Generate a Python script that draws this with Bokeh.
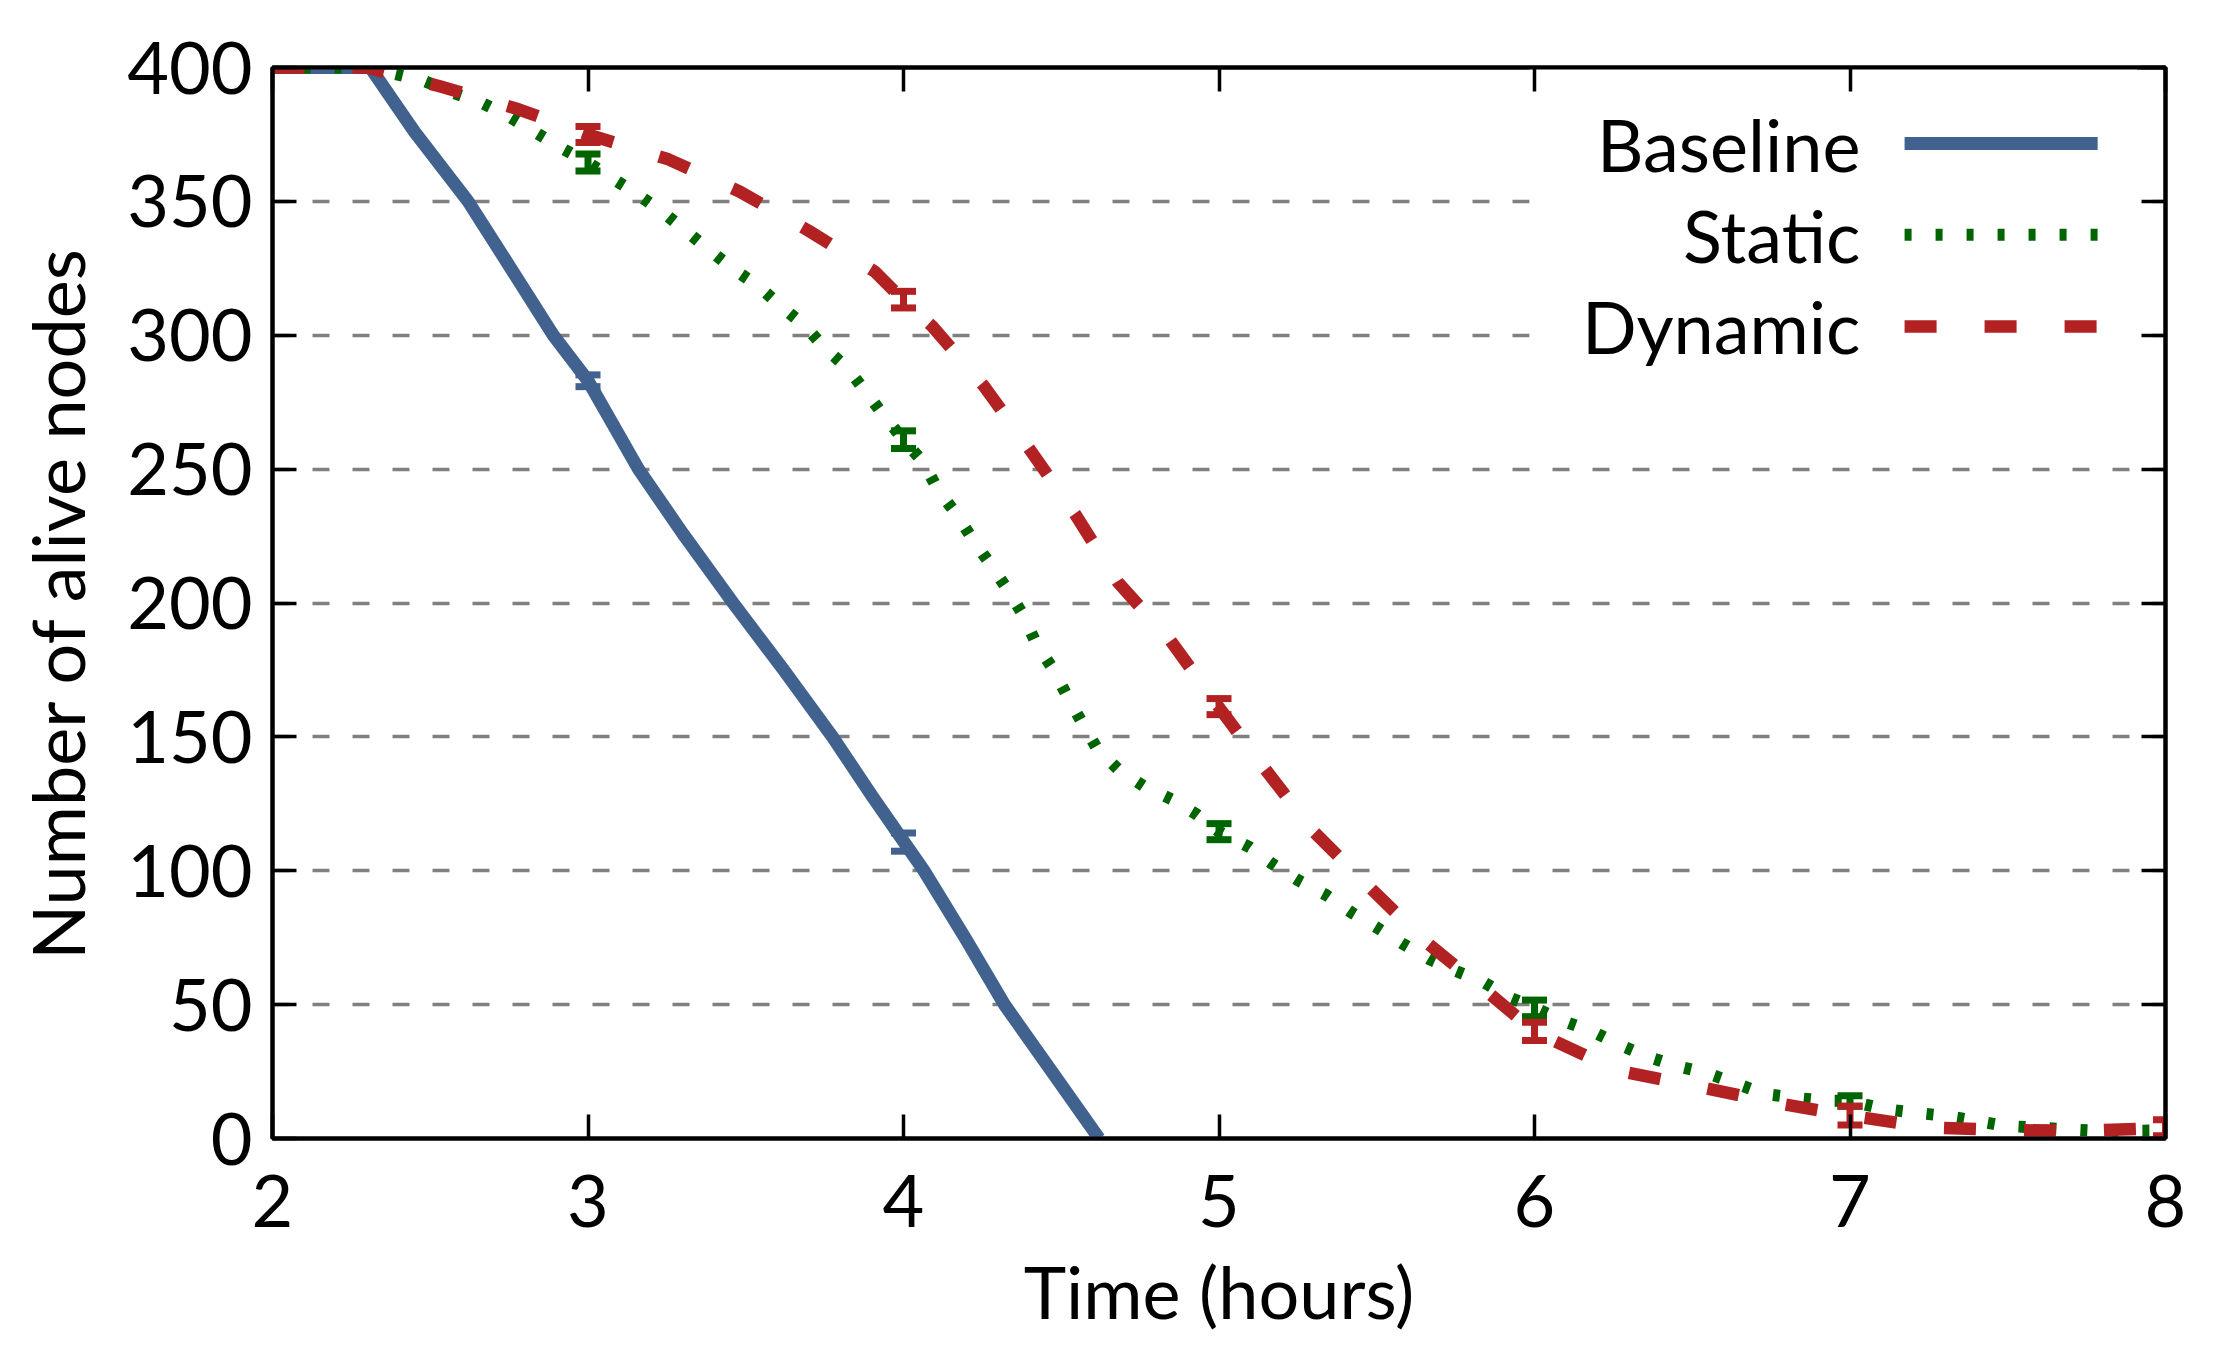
from bokeh.plotting import figure
from bokeh.models import (FixedTicker, LinearAxis, Range1d, Whisker, TeeHead,
                          ColumnDataSource, BoxAnnotation, Label)
from bokeh.embed import file_html
from bokeh.resources import INLINE

# ---------------- data ----------------
baseline_x = [2.0, 2.31, 2.45, 2.62, 2.75, 2.89, 3.0, 3.16, 3.3, 3.46, 3.62,
              3.775, 3.9, 4.0, 4.065, 4.2, 4.32, 4.47, 4.62]
baseline_y = [400, 400, 376, 350, 326, 300, 283, 250, 226, 200, 175,
              150, 128, 111, 100, 74, 50, 25, 0]

static_x = [2.0, 2.3, 2.385, 2.48, 2.576, 2.66, 2.745, 2.83, 2.915, 3.0, 3.08,
            3.16, 3.24, 3.31, 3.386, 3.46, 3.54, 3.61, 3.686, 3.75, 3.82, 3.88,
            3.94, 4.0, 4.064, 4.11, 4.167, 4.22, 4.276, 4.33, 4.38, 4.42, 4.474,
            4.52, 4.566, 4.615, 4.68, 4.76, 4.85, 4.93, 5.0, 5.098, 5.17, 5.25,
            5.34, 5.42, 5.5, 5.58, 5.666, 5.75, 5.84, 5.92, 6.0, 6.096, 6.19,
            6.27, 6.36, 6.45, 6.55, 6.63, 6.73, 6.82, 6.92, 7.0, 7.11, 7.2, 7.3,
            7.4, 7.49, 7.59, 7.68, 7.78, 7.88, 8.0]
static_y = [400, 400, 397.7, 395, 390.4, 387, 382, 376, 370, 364.5, 358.4,
            352.4, 345.7, 339, 331.7, 324.8, 318.4, 311, 303.7, 295.3, 288, 279,
            269.6, 261, 252.4, 242, 233.4, 223.6, 214.3, 205, 195.3, 185, 175.3,
            165, 155.3, 145.3, 137.9, 131.7, 126.7, 121, 114.6, 108.7, 102.5, 96.5,
            90.9, 84.4, 78.8, 72.9, 67, 62.6, 58.3, 52.7, 48.9, 43.7, 39.6,
            35, 30.5, 27.1, 24.3, 20.9, 16.6, 15.3, 14.1, 14, 11, 9.7, 8.5,
            6.6, 4.7, 4.1, 3.5, 2.9, 2.9, 3]

dynamic_x = [2.0, 2.3, 2.53, 2.78, 3.0, 3.255, 3.48, 3.7, 3.91, 4.0, 4.09,
             4.255, 4.4, 4.545, 4.68, 4.846, 5.0, 5.146, 5.3, 5.476, 5.65,
             5.846, 6.0, 6.05, 6.265, 6.52, 6.76, 7.0, 7.25, 7.5, 7.75, 8.0]
dynamic_y = [400, 400, 393, 384.4, 375, 365.7, 353.7, 339, 323.7, 313, 303.5,
             281, 257.4, 233, 207.7, 186, 161, 138, 114.6, 94, 74,
             55.2, 40, 37.1, 25.3, 19.3, 13.4, 8.5, 4.1, 3.1, 2.9, 4]

baseline_err_x = [3, 4]
baseline_err_y = [283, 110.7]
baseline_err = [2.2, 3.4]

static_err_x = [3, 4, 5, 6, 7]
static_err_y = [364.5, 261, 114.6, 48.6, 14]
static_err = [3.2, 3.3, 3.0, 3.1, 2.0]

dynamic_err_x = [3, 4, 5, 6, 7, 8]
dynamic_err_y = [375, 313.3, 161.3, 40, 8.5, 4]
dynamic_err = [3.0, 3.1, 3.0, 3.4, 3.5, 3.0]

series_names = ["Baseline", "Static", "Dynamic"]
x_ticks = [2, 3, 4, 5, 6, 7, 8]
y_ticks = [0, 50, 100, 150, 200, 250, 300, 350, 400]

# ---------------- styling ----------------
BLUE = "#41618f"
GREEN = "#006400"
RED = "#b22222"
FONT = "Lato"
FS = "72px"

p = figure(frame_width=1893, frame_height=1071,
           min_border_left=272, min_border_right=45,
           min_border_top=67, min_border_bottom=205,
           x_range=Range1d(2, 8), y_range=Range1d(0, 400),
           output_backend="svg", toolbar_location=None,
           background_fill_color="white", border_fill_color="white")

p.outline_line_color = "black"
p.outline_line_width = 4
p.xgrid.visible = False
p.ygrid.ticker = FixedTicker(ticks=y_ticks)
p.ygrid.grid_line_color = "#808080"
p.ygrid.grid_line_width = 3.5
p.ygrid.grid_line_dash = "17 23"


def style_axis(ax, ticks, show_labels):
    ax.ticker = FixedTicker(ticks=ticks)
    ax.axis_line_color = "black"
    ax.axis_line_width = 4
    ax.major_tick_in = 24
    ax.major_tick_out = 0
    ax.major_tick_line_width = 3.5
    ax.major_tick_line_color = "black"
    ax.minor_tick_line_color = None
    ax.major_label_text_font = FONT
    ax.major_label_text_font_size = FS
    ax.major_label_text_color = "black"
    ax.axis_label_text_font = FONT
    ax.axis_label_text_font_size = FS
    ax.axis_label_text_font_style = "normal"
    ax.axis_label_text_color = "black"
    if not show_labels:
        ax.major_label_overrides = {t: "" for t in ticks}


style_axis(p.xaxis[0], x_ticks, True)
style_axis(p.yaxis[0], y_ticks, True)
p.xaxis.axis_label = "Time (hours)"
p.yaxis.axis_label = "Number of alive nodes"
p.xaxis.major_label_standoff = 36
p.xaxis.axis_label_standoff = 18
p.yaxis.major_label_standoff = 20
p.yaxis.axis_label_standoff = 24

top_ax = LinearAxis()
style_axis(top_ax, x_ticks, False)
p.add_layout(top_ax, "above")
right_ax = LinearAxis()
style_axis(right_ax, y_ticks, False)
p.add_layout(right_ax, "right")

# legend box (covers grid lines like an opaque key)
LEG_TEXT_X = 7.033
LEG_X0, LEG_X1 = 7.173, 7.785
LEG_Y = [371.6, 337.5, 303.3]
p.add_layout(BoxAnnotation(left=5.985, right=7.91, top=400, bottom=282,
                           fill_color="white", fill_alpha=1.0,
                           line_color=None, level="underlay"))

colors = [BLUE, GREEN, RED]
dashes = ["solid", "7 24", "32 48"]
widths = [13, 12, 12.5]
xs = [baseline_x, static_x, dynamic_x]
ys = [baseline_y, static_y, dynamic_y]
ex = [baseline_err_x, static_err_x, dynamic_err_x]
ey = [baseline_err_y, static_err_y, dynamic_err_y]
ee = [baseline_err, static_err, dynamic_err]

for i in range(3):
    p.line(xs[i], ys[i], line_color=colors[i], line_width=widths[i],
           line_dash=dashes[i], line_cap="butt", line_join="round")
    src = ColumnDataSource(dict(
        x=ex[i],
        lower=[v - e for v, e in zip(ey[i], ee[i])],
        upper=[v + e for v, e in zip(ey[i], ee[i])]))
    w = Whisker(source=src, base="x", lower="lower", upper="upper",
                dimension="height", line_color=colors[i], line_width=7,
                level="glyph",
                upper_head=TeeHead(size=25, line_width=7, line_color=colors[i]),
                lower_head=TeeHead(size=25, line_width=7, line_color=colors[i]))
    p.add_layout(w)
    # legend entry
    p.line([LEG_X0, LEG_X1], [LEG_Y[i], LEG_Y[i]], line_color=colors[i],
           line_width=widths[i], line_dash=dashes[i], line_cap="butt")
    p.add_layout(Label(x=LEG_TEXT_X, y=LEG_Y[i], text=series_names[i],
                       text_align="right", text_baseline="middle",
                       text_font=FONT, text_font_size=FS, text_color="black"))

open("out.html", "w").write(file_html(p, INLINE))
